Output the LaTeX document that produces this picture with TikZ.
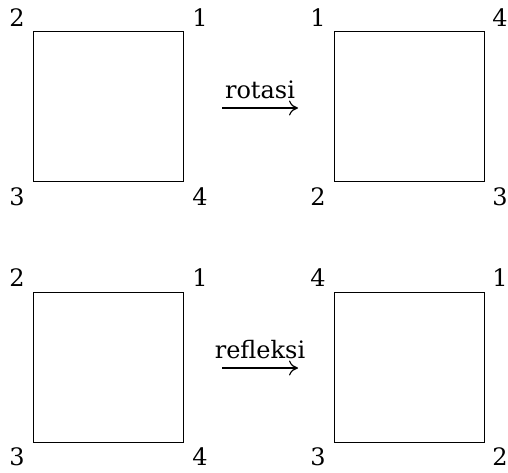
\documentclass[tikz,border=0pt]{standalone}
\usepackage{fontspec}
\setmainfont{DejaVu Serif}
\usetikzlibrary{arrows.meta}
\begin{document}
\begin{tikzpicture}[x=1pt,y=-1pt,
  sq/.style={draw,line width=0.8pt},
  lbl/.style={font=\fontsize{24}{28}\selectfont,inner sep=0pt},
  arr/.style={draw,line width=1.2pt,-{To[length=9pt,width=15pt]}}]
\path[use as bounding box] (0,0) rectangle (508,472);
% squares
\draw[sq] (33,31) rectangle (183,181);
\draw[sq] (334,31) rectangle (484,181);
\draw[sq] (33,292) rectangle (183,442);
\draw[sq] (334,292) rectangle (484,442);
% top-left labels
\node[lbl] (tl2) at (17,18) {2};
\node[lbl] (tl1) at (200,18) {1};
\node[lbl] (tl3) at (17,197) {3};
\node[lbl] (tl4) at (200,197) {4};
% top-right labels
\node[lbl] (tr1) at (318,18) {1};
\node[lbl] (tr4) at (500,18) {4};
\node[lbl] (tr2) at (318,197) {2};
\node[lbl] (tr3) at (500,197) {3};
% bottom-left labels
\node[lbl] (bl2) at (17,278) {2};
\node[lbl] (bl1) at (200,278) {1};
\node[lbl] (bl3) at (17,457) {3};
\node[lbl] (bl4) at (200,457) {4};
% bottom-right labels
\node[lbl] (br4) at (318,278) {4};
\node[lbl] (br1) at (500,278) {1};
\node[lbl] (br3) at (318,457) {3};
\node[lbl] (br2) at (500,457) {2};
% arrows
\coordinate (ra) at (222,108);
\coordinate (rb) at (298,108);
\draw[arr] (ra) -- (rb);
\node[lbl,anchor=base] (rot) at (260,98) {rotasi};
\coordinate (fa) at (222,368);
\coordinate (fb) at (298,368);
\draw[arr] (fa) -- (fb);
\node[lbl,anchor=base] (ref) at (260,358) {refleksi};
\end{tikzpicture}
\end{document}
